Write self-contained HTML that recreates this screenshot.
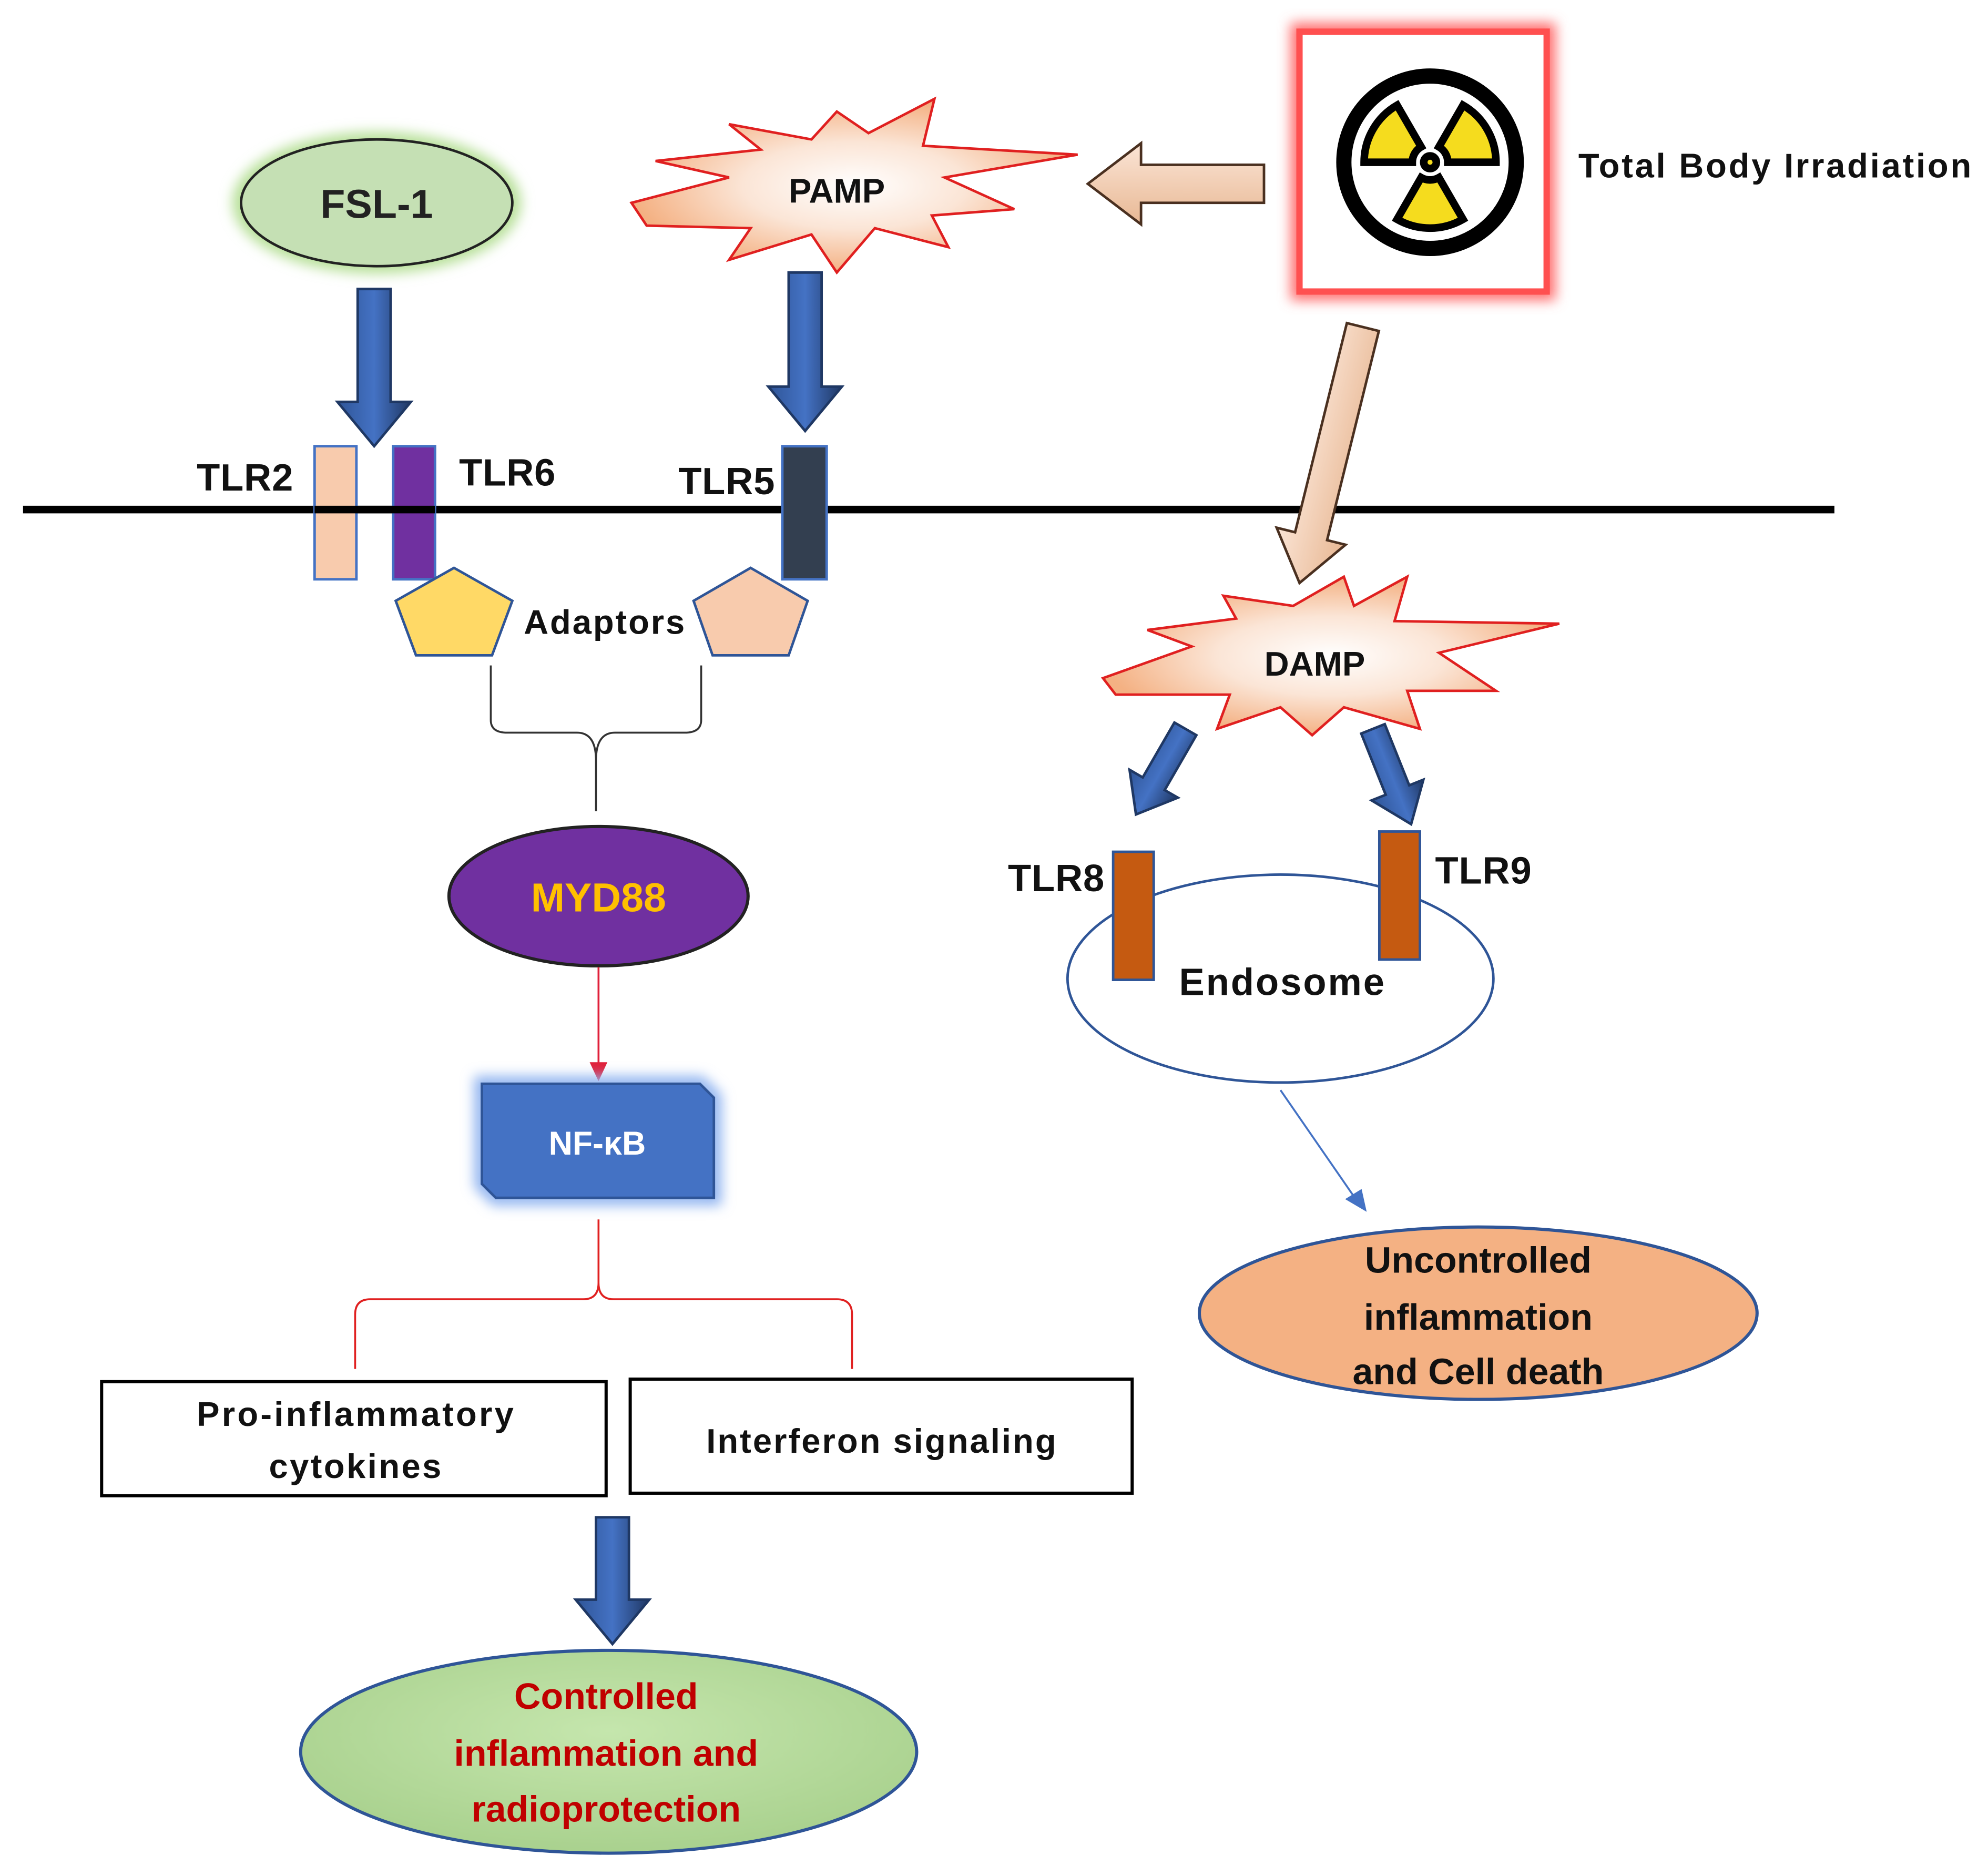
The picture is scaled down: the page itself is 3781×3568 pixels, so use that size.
<!DOCTYPE html>
<html><head><meta charset="utf-8"><style>html,body{margin:0;padding:0;background:#fff}svg{display:block}</style></head>
<body>
<svg width="3781" height="3568" viewBox="0 0 1568 1480" xmlns="http://www.w3.org/2000/svg" font-family="Liberation Sans, DejaVu Sans, sans-serif" font-weight="bold">
<defs>
<radialGradient id="burst" cx="50%" cy="50%" r="50%"><stop offset="0" stop-color="#fff"/><stop offset="0.5" stop-color="#fbe5d6"/><stop offset="1" stop-color="#f4b183"/></radialGradient>
<linearGradient id="blue" x1="0" x2="1" y1="0" y2="0"><stop offset="0" stop-color="#2f5597"/><stop offset="0.5" stop-color="#4472c4"/><stop offset="1" stop-color="#203864"/></linearGradient>
<linearGradient id="tan" x1="0" x2="0" y1="0" y2="1"><stop offset="0" stop-color="#fbe5d6"/><stop offset="1" stop-color="#e8b894"/></linearGradient>
<linearGradient id="tan2" x1="0" x2="1" y1="0" y2="0"><stop offset="0" stop-color="#fbe5d6"/><stop offset="1" stop-color="#e8b894"/></linearGradient>
<radialGradient id="green" cx="50%" cy="40%" r="60%"><stop offset="0" stop-color="#c5e6ad"/><stop offset="1" stop-color="#a9d18e"/></radialGradient>
<filter id="glowG" x="-30%" y="-30%" width="160%" height="160%"><feGaussianBlur stdDeviation="5"/></filter>
</defs>

<ellipse cx="297" cy="160" rx="114" ry="56" fill="#b8e09a" filter="url(#glowG)"/>
<ellipse cx="297" cy="160" rx="107" ry="50" fill="#c5e0b4" stroke="#222" stroke-width="2"/>
<text x="297" y="172" font-size="32" text-anchor="middle" fill="#222">FSL-1</text>

<polygon points="498,160 575,140 517,127 600,118 575,98 640,110 660,88 685,105 737,78 728,115 850,122 745,140 800,165 735,170 748,195 690,180 660,215 640,185 575,205 592,180 510,178" fill="url(#burst)" stroke="#e02020" stroke-width="2"/>
<text x="660" y="160" font-size="27" text-anchor="middle" fill="#111">PAMP</text>

<polygon points="997,130 900,130 900,113 858,145 900,177 900,160 997,160" fill="url(#tan)" stroke="#4a3020" stroke-width="2"/>

<rect x="1025" y="25" width="195" height="205" fill="none" stroke="#ff7070" stroke-width="14" filter="url(#glowG)"/>
<rect x="1025" y="25" width="195" height="205" fill="#fff" stroke="#ff5050" stroke-width="5"/>
<circle cx="1128" cy="128" r="68" fill="#fff" stroke="#000" stroke-width="12"/>
<g fill="#f5dc1e" stroke="#000" stroke-width="6">
<path d="M1135,140.1 L1154,173 A52,52 0 0 1 1102,173 L1121,140.1 A14,14 0 0 0 1135,140.1 Z"/>
<path d="M1135,115.9 L1154,83 A52,52 0 0 1 1180,128 L1142,128 A14,14 0 0 0 1135,115.9 Z"/>
<path d="M1114,128 L1076,128 A52,52 0 0 1 1102,83 L1121,115.9 A14,14 0 0 0 1114,128 Z"/>
<circle cx="1128" cy="128" r="5"/>
</g>
<text x="1245" y="140" font-size="27" fill="#111" textLength="310" lengthAdjust="spacing">Total Body Irradiation</text>

<g fill="url(#blue)" stroke="#1f3864" stroke-width="2">
<polygon points="282,228 308,228 308,317 324,317 295,352 266,317 282,317"/>
<polygon points="622,215 648,215 648,305 664,305 635,340 606,305 622,305"/>
<polygon points="470,1197 496,1197 496,1262 512,1262 483,1297 454,1262 470,1262"/>
<polygon transform="translate(935,575) rotate(30)" points="-10,0 10,0 10,50 22,50 0,78 -22,50 -10,50"/>
<polygon transform="translate(1083,575) rotate(-21.8)" points="-10,0 10,0 10,52 22,52 0,81 -22,52 -10,52"/>
</g>

<line x1="18" y1="402" x2="1447" y2="402" stroke="#000" stroke-width="6"/>

<rect x="248" y="352" width="33" height="105" fill="#f8cbad" stroke="#4472c4" stroke-width="2"/>
<rect x="310" y="352" width="33" height="105" fill="#7030a0" stroke="#4472c4" stroke-width="2"/>
<rect x="617" y="352" width="35" height="105" fill="#333f50" stroke="#4472c4" stroke-width="2"/>
<line x1="248" y1="402" x2="343" y2="402" stroke="#000" stroke-width="6"/>
<text x="155" y="387" font-size="30" fill="#111" textLength="76">TLR2</text>
<text x="362" y="383" font-size="30" fill="#111" textLength="76">TLR6</text>
<text x="535" y="390" font-size="30" fill="#111" textLength="76">TLR5</text>

<polygon points="358,448 404,474 388,517 328,517 312,474" fill="#ffd966" stroke="#2f5597" stroke-width="2"/>
<polygon points="592,448 637,474 622,517 562,517 547,474" fill="#f8cbad" stroke="#2f5597" stroke-width="2"/>
<text x="413" y="500" font-size="27" fill="#111" textLength="127">Adaptors</text>

<path d="M387,525 L387,568 Q387,578 400,578 L455,578 Q470,578 470,600 L470,640 M553,525 L553,568 Q553,578 540,578 L485,578 Q470,578 470,600" fill="none" stroke="#333" stroke-width="1.5"/>

<ellipse cx="472" cy="707" rx="118" ry="55" fill="#7030a0" stroke="#222" stroke-width="2.5"/>
<text x="472" y="719" font-size="32" text-anchor="middle" fill="#ffc000">MYD88</text>

<line x1="472" y1="763" x2="472" y2="840" stroke="#e0203a" stroke-width="1.5"/>
<polygon points="465,838 479,838 472,853" fill="#e0203a"/>

<polygon points="380,855 552,855 563,866 563,945 391,945 380,934" fill="none" stroke="#8fb3f0" stroke-width="12" filter="url(#glowG)"/>
<polygon points="380,855 552,855 563,866 563,945 391,945 380,934" fill="#4472c4" stroke="#2f5597" stroke-width="2"/>
<text x="471" y="911" font-size="26" text-anchor="middle" fill="#fff">NF-κB</text>

<path d="M472,962 L472,1012 Q472,1025 460,1025 L292,1025 Q280,1025 280,1037 L280,1080 M472,1012 Q472,1025 484,1025 L660,1025 Q672,1025 672,1037 L672,1080" fill="none" stroke="#e02020" stroke-width="1.5"/>

<rect x="80" y="1090" width="398" height="90" fill="#fff" stroke="#000" stroke-width="2.5"/>
<text x="280" y="1125" font-size="27" text-anchor="middle" fill="#111" textLength="250">Pro-inflammatory</text>
<text x="280" y="1166" font-size="27" text-anchor="middle" fill="#111" textLength="136">cytokines</text>
<rect x="497" y="1088" width="396" height="90" fill="#fff" stroke="#000" stroke-width="2.5"/>
<text x="695" y="1146" font-size="27" text-anchor="middle" fill="#111" textLength="276">Interferon signaling</text>

<ellipse cx="480" cy="1382" rx="243" ry="80" fill="url(#green)" stroke="#2f5597" stroke-width="2.5"/>
<g font-size="29" text-anchor="middle" fill="#c00000">
<text x="478" y="1348">Controlled</text>
<text x="478" y="1393">inflammation and</text>
<text x="478" y="1437">radioprotection</text>
</g>

<polygon transform="translate(1075,258) rotate(13.9)" points="-13,0 13,0 13,170 28,170 0,208 -28,170 -13,170" fill="url(#tan2)" stroke="#4a3020" stroke-width="2"/>

<polygon points="870,535 940,510 905,497 975,488 965,470 1020,478 1060,455 1068,478 1110,455 1100,490 1230,492 1135,515 1180,545 1110,545 1120,575 1060,558 1035,580 1010,558 960,575 970,548 880,548" fill="url(#burst)" stroke="#e02020" stroke-width="2"/>
<text x="1037" y="533" font-size="27" text-anchor="middle" fill="#111">DAMP</text>

<ellipse cx="1010" cy="772" rx="168" ry="82" fill="none" stroke="#2f5597" stroke-width="2"/>
<rect x="878" y="672" width="32" height="101" fill="#c55a11" stroke="#2f5597" stroke-width="2"/>
<rect x="1088" y="656" width="32" height="101" fill="#c55a11" stroke="#2f5597" stroke-width="2"/>
<text x="795" y="703" font-size="30" fill="#111" textLength="76">TLR8</text>
<text x="1132" y="697" font-size="30" fill="#111" textLength="76">TLR9</text>
<text x="930" y="785" font-size="30" fill="#111" textLength="162">Endosome</text>

<line x1="1010" y1="860" x2="1068" y2="944" stroke="#4472c4" stroke-width="1.5"/>
<polygon points="1061,946 1074,938 1078,956" fill="#4472c4"/>

<ellipse cx="1166" cy="1036" rx="220" ry="68" fill="#f4b183" stroke="#2f5597" stroke-width="2.5"/>
<g font-size="29" text-anchor="middle" fill="#111">
<text x="1166" y="1004">Uncontrolled</text>
<text x="1166" y="1049">inflammation</text>
<text x="1166" y="1092">and Cell death</text>
</g>
</svg>
</body></html>
